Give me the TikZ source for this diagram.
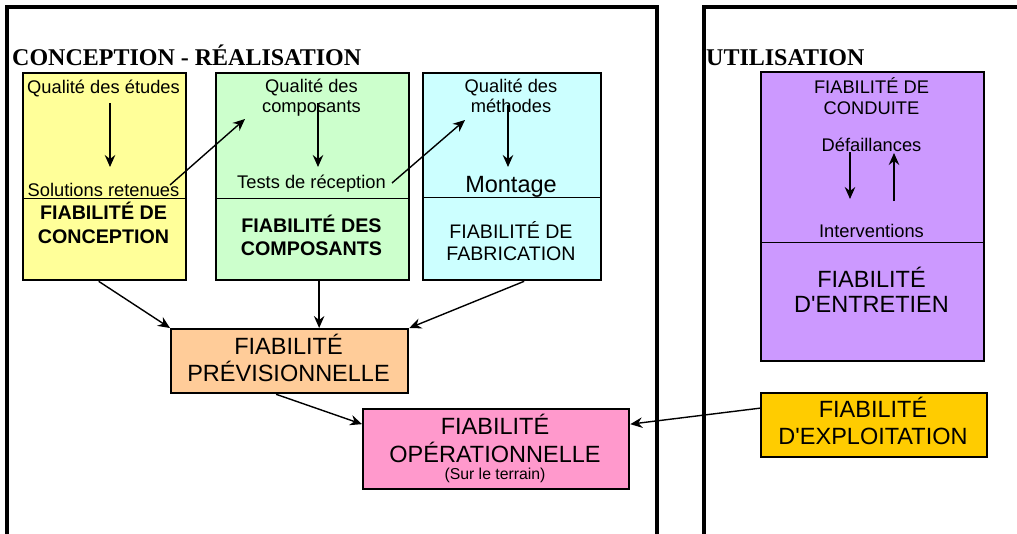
\documentclass[tikz,border=0pt]{standalone}
\usepackage{fontspec}
\setmainfont{Liberation Serif}
\newfontfamily\arial{Liberation Sans}
\usetikzlibrary{arrows.meta,calc}
\definecolor{cyel}{HTML}{FFFF99}
\definecolor{cgrn}{HTML}{CCFFCC}
\definecolor{ccyn}{HTML}{CCFFFF}
\definecolor{cpur}{HTML}{CC99FF}
\definecolor{cora}{HTML}{FFCC99}
\definecolor{cpnk}{HTML}{FF99CC}
\definecolor{cgld}{HTML}{FFCC00}
\begin{document}
\begin{tikzpicture}[x=1pt,y=-1pt,
  box/.style={draw, line width=2.3pt, anchor=north west, inner sep=0},
  frame/.style={line width=4pt},
  arr/.style={line width=1.4pt, -{Stealth[length=12pt,width=10.5pt,inset=4pt]}},
  divider/.style={line width=0.8pt},
  t/.style={anchor=base, inner sep=0, font=\arial\fontsize{18.3}{20}\selectfont},
  tb/.style={anchor=base, inner sep=0, font=\arial\bfseries\fontsize{19.7}{22}\selectfont},
  tm/.style={anchor=base, inner sep=0, font=\arial\fontsize{19.6}{22}\selectfont},
  tl/.style={anchor=base, inner sep=0, font=\arial\fontsize{23.5}{26}\selectfont},
  ts/.style={anchor=base, inner sep=0, font=\arial\fontsize{15.8}{18}\selectfont},
  title/.style={anchor=base west, inner sep=0, font=\bfseries\fontsize{24}{26}\selectfont}]
\useasboundingbox (0,0) rectangle (1017,533);
% frames
\draw[frame] (7,540) -- (7,7) -- (657,7) -- (657,540);
\draw[frame] (704,540) -- (704,7) -- (1030,7);
\node[title] (t1) at (12,65) {CONCEPTION - RÉALISATION};
\node[title] (t2) at (706,65) {UTILISATION};
% boxes
\node[box, fill=cyel, minimum width=163, minimum height=207] (yel) at (22,72) {};
\node[box, fill=cgrn, minimum width=193, minimum height=207] (grn) at (215,72) {};
\node[box, fill=ccyn, minimum width=178, minimum height=207] (cyn) at (422,72) {};
\node[box, fill=cpur, minimum width=223, minimum height=289] (pur) at (760,71) {};
\node[box, fill=cora, minimum width=237, minimum height=64] (ora) at (170,328) {};
\node[box, fill=cpnk, minimum width=266, minimum height=80] (pnk) at (362,408) {};
\node[box, fill=cgld, minimum width=226, minimum height=64] (gld) at (760,392) {};
% dividers
\draw[divider] (22,198) -- (187,198);
\draw[divider] (215,198) -- (410,198);
\draw[divider] (422,197) -- (602,197);
\draw[divider] (760,242) -- (985,242);
% yellow texts
\node[t] (qe) at (103.5,93) {Qualité des études};
\node[t] (sol) at (103.5,196) {Solutions retenues};
\node[tb] (fc1) at (103.5,219) {FIABILITÉ DE};
\node[tb] (fc2) at (103.5,243) {CONCEPTION};
% green texts
\node[t] (qc1) at (311.5,92) {Qualité des};
\node[t] (qc2) at (311.5,112) {composants};
\node[t] (tests) at (311.5,188) {Tests de réception};
\node[tb] (fd1) at (311.5,232) {FIABILITÉ DES};
\node[tb] (fd2) at (311.5,255) {COMPOSANTS};
% cyan texts
\node[t] (qm1) at (511,92) {Qualité des};
\node[t] (qm2) at (511,112) {méthodes};
\node[tl] (mont) at (511,192) {Montage};
\node[tm] (ff1) at (511,238) {FIABILITÉ DE};
\node[tm] (ff2) at (511,260) {FABRICATION};
% purple texts
\node[t] (fcd1) at (871.5,93) {FIABILITÉ DE};
\node[t] (fcd2) at (871.5,114) {CONDUITE};
\node[t] (def) at (871.5,151) {Défaillances};
\node[t] (int) at (871.5,237) {Interventions};
\node[tl] (fe1) at (871.5,287) {FIABILITÉ};
\node[tl] (fe2) at (871.5,312) {D'ENTRETIEN};
% orange
\node[tl] (fp1) at (288.5,354) {FIABILITÉ};
\node[tl] (fp2) at (288.5,381) {PRÉVISIONNELLE};
% pink
\node[tl] (fo1) at (495,434) {FIABILITÉ};
\node[tl] (fo2) at (495,462) {OPÉRATIONNELLE};
\node[ts] (fo3) at (495,479) {(Sur le terrain)};
% gold
\node[tl] (fx1) at (873,417) {FIABILITÉ};
\node[tl] (fx2) at (873,444) {D'EXPLOITATION};
% inner arrows
\draw[arr] ($(qe.base)+(6.5,10)$) -- ($(sol.base)+(6.5,-29)$);
\draw[arr] ($(qc1.base)+(6.5,11)$) -- ($(tests.base)+(6.5,-21)$);
\draw[arr] ($(qm1.base)+(-3,13)$) -- ($(mont.base)+(-3,-25)$);
\draw[arr] ($(sol.base)+(66.5,-11)$) -- ($(qc2.base)+(-66.5,7)$);
\draw[arr] ($(tests.base)+(80.5,-5)$) -- ($(qm2.base)+(-46,8)$);
\draw[arr] ($(def.base)+(-21.5,1)$) -- ($(int.base)+(-21.5,-38)$);
\draw[arr] ($(int.base)+(22.5,-36)$) -- ($(def.base)+(22.5,2)$);
% box arrows
\draw[arr] ($(yel.south)+(-6,0)$) -- (ora.north west);
\draw[arr] ($(grn.south)+(6.5,0)$) -- ($(ora.north)+(29.5,0)$);
\draw[arr] ($(cyn.south)+(12,0)$) -- (ora.north east);
\draw[arr] ($(ora.south)+(-13.5,0)$) -- ($(pnk.west)+(0,-25)$);
\draw[arr] ($(gld.west)+(0,-17)$) -- ($(pnk.east)+(0,-25)$);
\end{tikzpicture}
\end{document}
